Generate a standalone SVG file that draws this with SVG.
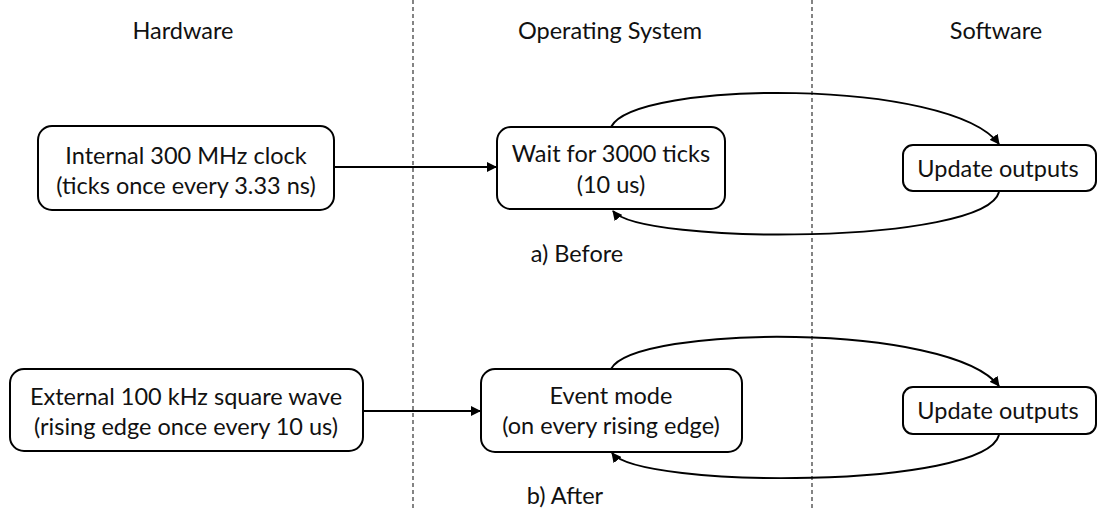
<svg xmlns="http://www.w3.org/2000/svg" width="1098" height="510" viewBox="0 0 1098 510">
<style>
.t{font-family:Lato,"Open Sans","Liberation Sans",sans-serif;font-size:23.5px;fill:#111;text-anchor:middle}
.box{fill:#fff;stroke:#000;stroke-width:2}
.c{fill:none;stroke:#000;stroke-width:2}
.d{stroke:#333;stroke-width:1.2;stroke-dasharray:4 3}
</style>
<defs>
<marker id="ah" viewBox="0 0 10 10" refX="9" refY="5" markerWidth="5" markerHeight="5" orient="auto" markerUnits="strokeWidth">
<path d="M0,0 L10,5 L0,10 z" fill="#000"/>
</marker>
</defs>
<rect width="1098" height="510" fill="#fff"/>
<g id="dividers">
<line class="d" x1="413" y1="0" x2="413" y2="510"/>
<line class="d" x1="812" y1="0" x2="812" y2="510"/>
</g>
<g id="headers">
<text class="t" x="183" y="39">Hardware</text>
<text class="t" x="610" y="39">Operating System</text>
<text class="t" x="996" y="39">Software</text>
</g>
<g id="connectors">
<line class="c" x1="334" y1="167" x2="496" y2="167" marker-end="url(#ah)"/>
<path class="c" d="M611,127 C635,80 950,78 999,144" marker-end="url(#ah)"/>
<path class="c" d="M999,192 C985,245 640,245 613,211" marker-end="url(#ah)"/>
<line class="c" x1="363" y1="411" x2="480" y2="411" marker-end="url(#ah)"/>
<path class="c" d="M611,369 C635,325 950,322 999,386" marker-end="url(#ah)"/>
<path class="c" d="M999,435 C985,489 640,489 612,453" marker-end="url(#ah)"/>
</g>
<g id="n1">
<rect class="box" x="38" y="126" width="296" height="84" rx="14"/>
<text class="t" x="186" y="164">Internal 300 MHz clock</text>
<text class="t" x="186" y="194">(ticks once every 3.33 ns)</text>
</g>
<g id="n2">
<rect class="box" x="497" y="127" width="228" height="82" rx="14"/>
<text class="t" x="611" y="162">Wait for 3000 ticks</text>
<text class="t" x="611" y="193">(10 us)</text>
</g>
<g id="n3">
<rect class="box" x="903" y="145" width="193" height="46" rx="10"/>
<text class="t" x="998" y="177">Update outputs</text>
</g>
<g id="label-a">
<text class="t" x="577" y="262">a) Before</text>
</g>
<g id="n4">
<rect class="box" x="10" y="369" width="353" height="82" rx="14"/>
<text class="t" x="186" y="405">External 100 kHz square wave</text>
<text class="t" x="186" y="435">(rising edge once every 10 us)</text>
</g>
<g id="n5">
<rect class="box" x="481" y="369" width="261" height="83" rx="14"/>
<text class="t" x="611" y="404">Event mode</text>
<text class="t" x="611" y="434">(on every rising edge)</text>
</g>
<g id="n6">
<rect class="box" x="903" y="387" width="193" height="47" rx="10"/>
<text class="t" x="998" y="419">Update outputs</text>
</g>
<g id="label-b">
<text class="t" x="565" y="504">b) After</text>
</g>
</svg>
